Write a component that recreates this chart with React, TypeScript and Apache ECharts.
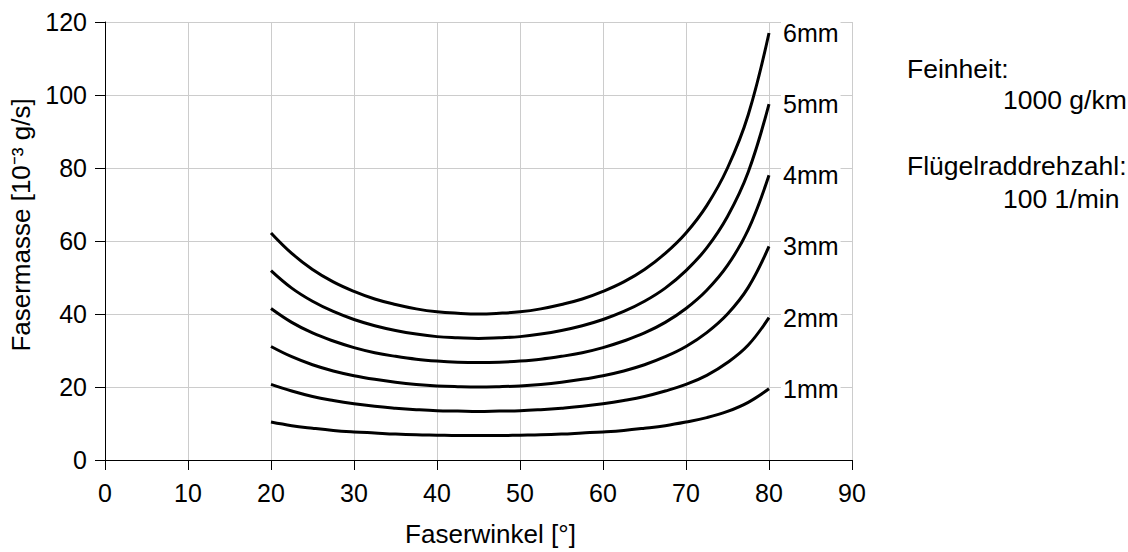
import React, { useEffect, useRef } from "react";
import * as echarts from "echarts";

const angles = [20, 22.5, 25, 27.5, 30, 32.5, 35, 37.5, 40, 42.5, 45, 47.5, 50, 52.5, 55, 57.5, 60, 62.5, 65, 67.5, 70, 72.5, 75, 77.5, 80];
const seriesNames = ["1mm", "2mm", "3mm", "4mm", "5mm", "6mm"];
const mass1mm = [10.4, 9.4, 8.7, 8.1, 7.7, 7.4, 7.1, 6.9, 6.8, 6.7, 6.7, 6.7, 6.8, 6.9, 7.1, 7.4, 7.7, 8.1, 8.7, 9.4, 10.4, 11.6, 13.3, 15.8, 19.5];
const mass2mm = [20.7, 18.9, 17.4, 16.3, 15.4, 14.7, 14.2, 13.8, 13.5, 13.4, 13.3, 13.4, 13.5, 13.8, 14.2, 14.7, 15.4, 16.3, 17.4, 18.9, 20.7, 23.2, 26.7, 31.5, 39.0];
const mass3mm = [31.1, 28.3, 26.1, 24.4, 23.1, 22.1, 21.3, 20.7, 20.3, 20.1, 20, 20.1, 20.3, 20.7, 21.3, 22.1, 23.1, 24.4, 26.1, 28.3, 31.1, 34.9, 40, 47.3, 58.5];
const mass4mm = [41.5, 37.7, 34.8, 32.6, 30.8, 29.4, 28.4, 27.6, 27.1, 26.8, 26.7, 26.8, 27.1, 27.6, 28.4, 29.4, 30.8, 32.6, 34.8, 37.7, 41.5, 46.5, 53.3, 63.1, 78.0];
const mass5mm = [51.9, 47.1, 43.5, 40.7, 38.5, 36.8, 35.5, 34.5, 33.8, 33.5, 33.3, 33.5, 33.8, 34.5, 35.5, 36.8, 38.5, 40.7, 43.5, 47.1, 51.9, 58.1, 66.7, 78.9, 97.5];
const mass6mm = [62.2, 56.6, 52.2, 48.8, 46.2, 44.1, 42.6, 41.4, 40.6, 40.2, 40, 40.2, 40.6, 41.4, 42.6, 44.1, 46.2, 48.8, 52.2, 56.6, 62.2, 69.7, 80, 94.6, 117];
const allMasses = [mass1mm, mass2mm, mass3mm, mass4mm, mass5mm, mass6mm];

const xAxisTitle = "Faserwinkel [°]";
const yAxisTitle = "Fasermasse [10⁻³ g/s]";
const noteLines = ["Feinheit:", "1000 g/km", "Flügelraddrehzahl:", "100 1/min"];

const FONT = "'Liberation Sans', Arial, sans-serif";
const FS = 25;
const FS_TITLE = 26;
const FS_NOTE = 26.5;

export default function App() {
  const ref = useRef<HTMLDivElement>(null);
  useEffect(() => {
    if (!ref.current) return;
    const chart = echarts.init(ref.current, undefined, { renderer: "svg" });
    const series = seriesNames.map((name, i) => ({
      name,
      type: "line",
      smooth: 0.4,
      symbol: "none",
      lineStyle: { color: "#000", width: 3 },
      data: angles.map((a, j) => [a, allMasses[i][j]]),
      endLabel: {
        show: true,
        formatter: "{a}",
        color: "#000",
        fontFamily: FONT,
        fontSize: FS,
        distance: 12,
        backgroundColor: "#fff",
        padding: [0, 2],
      },
    }));
    const noteStyle = (t: string) => ({ text: t, fill: "#000", font: `${FS_NOTE}px ${FONT}` });
    chart.setOption({
      animation: false,
      textStyle: { fontFamily: FONT },
      grid: { left: 105, right: 276, top: 22, bottom: 90, containLabel: false },
      xAxis: {
        type: "value",
        min: 0,
        max: 90,
        interval: 10,
        name: xAxisTitle,
        nameLocation: "middle",
        nameGap: 61,
        nameTextStyle: { color: "#000", fontSize: FS_TITLE, fontFamily: FONT, padding: [0, 0, 0, 24] },
        axisLine: { show: true, lineStyle: { color: "#000", width: 1 } },
        axisTick: { show: true, length: 10, lineStyle: { color: "#000" } },
        axisLabel: { color: "#000", fontSize: FS, fontFamily: FONT, margin: 20 },
        splitLine: { show: true, lineStyle: { color: "#cccccc", width: 1 } },
      },
      yAxis: {
        type: "value",
        min: 0,
        max: 120,
        interval: 20,
        name: yAxisTitle,
        nameLocation: "middle",
        nameGap: 66,
        nameRotate: 90,
        nameTextStyle: { color: "#000", fontSize: FS_TITLE, fontFamily: FONT, padding: [0, 0, 0, 32] },
        axisLine: { show: true, lineStyle: { color: "#000", width: 1 } },
        axisTick: { show: true, length: 10, lineStyle: { color: "#000" } },
        axisLabel: { color: "#000", fontSize: FS, fontFamily: FONT, margin: 18 },
        splitLine: { show: true, lineStyle: { color: "#cccccc", width: 1 } },
      },
      graphic: [
        { type: "text", left: 907, top: 55, style: noteStyle(noteLines[0]) },
        { type: "text", left: 1003, top: 86, style: noteStyle(noteLines[1]) },
        { type: "text", left: 907, top: 152, style: noteStyle(noteLines[2]) },
        { type: "text", left: 1003, top: 185, style: noteStyle(noteLines[3]) },
      ],
      series,
    });
    return () => chart.dispose();
  }, []);
  return <div ref={ref} style={{ width: 1128, height: 552, position: "absolute", left: 0, top: 0 }} />;
}
